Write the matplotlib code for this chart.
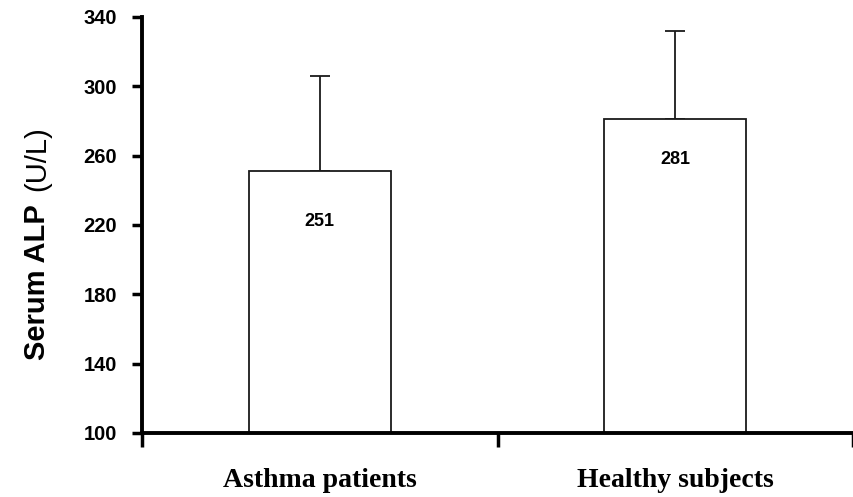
import matplotlib.pyplot as plt
import numpy as np

# data
groups = ['Asthma patients', 'Healthy subjects']
means = [251, 281]
sd_up = [55, 51]
label_y = [222, 258]
yticks = [100, 140, 180, 220, 260, 300, 340]

fig = plt.figure(figsize=(8.54, 4.97), dpi=100)
ax = fig.add_axes([142/854, 1 - 433/497, 1 - 142/854 - 0.001, (433 - 17)/497])

pos = np.arange(len(groups)) + 0.5
ax.bar(pos, np.array(means) - 100, bottom=100, width=0.4, color='white',
       edgecolor='#1a1a1a', linewidth=1.3, zorder=2)
ax.errorbar(pos, means, yerr=[[0, 0], sd_up], fmt='none', ecolor='#1a1a1a',
            elinewidth=1.3, capsize=7.5, capthick=1.3, zorder=1)

# value labels inside the bars
for p, m, ly in zip(pos, means, label_y):
    ax.text(p, ly, str(m), ha='center', va='center',
            fontsize=13, fontweight='bold', family='Liberation Sans')

ax.set_xlim(0, 2)
ax.set_ylim(100, 340)
ax.set_xticks([0, 1, 2])
ax.set_xticklabels([])
ax.set_xticks(pos, minor=True)
ax.set_xticklabels(groups, minor=True, fontsize=20, fontweight='bold',
                   family='Liberation Serif')
ax.tick_params(axis='x', which='major', direction='out', length=10, width=2.5)
ax.tick_params(axis='x', which='minor', length=0, pad=25)

ax.set_yticks(yticks)
ax.set_yticklabels([str(t) for t in yticks], fontsize=14.5, fontweight='bold',
                   family='Liberation Sans')
ax.tick_params(axis='y', direction='out', length=7, width=2.5, pad=11)

for s in ['top', 'right']:
    ax.spines[s].set_visible(False)
for s in ['left', 'bottom']:
    ax.spines[s].set_linewidth(2.8)
ax.spines['bottom'].set_zorder(3)

# y label: bold name, regular unit
fig.text(37/854, 1 - 360/497, 'Serum ALP', rotation=90, ha='center', va='bottom',
         fontsize=21, fontweight='bold', family='Liberation Sans')
fig.text(37/854, 1 - 191/497, '(U/L)', rotation=90, ha='center', va='bottom',
         fontsize=21, family='Liberation Sans')

fig.savefig('out.png', dpi=100)
